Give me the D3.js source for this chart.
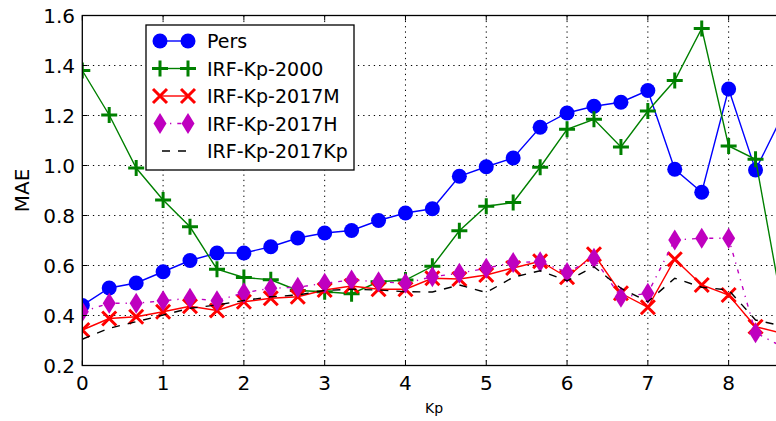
<!DOCTYPE html>
<meta charset="utf-8">
<style>
  body { margin: 0; background: #fff; }
  text { font-family: "DejaVu Sans", sans-serif; }
</style>
<svg width="776" height="421"></svg>
<script src="https://d3js.org/d3.v7.min.js"></script>
<script>

// Kp bins (thirds)
var kp = [0, 0.333, 0.667, 1, 1.333, 1.667, 2, 2.333, 2.667, 3, 3.333, 3.667, 4, 4.333,
          4.667, 5, 5.333, 5.667, 6, 6.333, 6.667, 7, 7.333, 7.667, 8, 8.333, 8.667];

var pers = [0.44, 0.51, 0.53, 0.575, 0.62, 0.65, 0.65, 0.675, 0.71, 0.73, 0.74, 0.78, 0.81, 0.827,
            0.957, 0.995, 1.03, 1.153, 1.21, 1.237, 1.253, 1.30, 0.985, 0.893, 1.306, 0.982, 1.20];

var irf2000 = [1.38, 1.202, 0.99, 0.862, 0.755, 0.585, 0.552, 0.543, 0.50, 0.495, 0.487, 0.535, 0.542, 0.597,
               0.739, 0.837, 0.852, 0.993, 1.145, 1.185, 1.074, 1.218, 1.34, 1.548, 1.078, 1.025, 0.43];

var irf2017M = [0.342, 0.388, 0.395, 0.415, 0.437, 0.42, 0.455, 0.469, 0.475, 0.502, 0.518, 0.505, 0.505, 0.549,
                0.546, 0.562, 0.59, 0.617, 0.553, 0.645, 0.489, 0.433, 0.625, 0.522, 0.482, 0.355, 0.329];

var irf2017H = [0.415, 0.449, 0.449, 0.459, 0.469, 0.459, 0.491, 0.509, 0.513, 0.529, 0.542, 0.535, 0.529, 0.555,
                0.569, 0.589, 0.612, 0.615, 0.572, 0.629, 0.473, 0.489, 0.702, 0.709, 0.709, 0.331, 0.275];

var irf2017Kp = [0.305, 0.349, 0.375, 0.402, 0.429, 0.442, 0.46, 0.475, 0.482, 0.50, 0.505, 0.502, 0.495, 0.494,
                 0.522, 0.492, 0.553, 0.579, 0.539, 0.595, 0.509, 0.455, 0.549, 0.513, 0.502, 0.382, 0.358];

var xTicks = [0, 1, 2, 3, 4, 5, 6, 7, 8];
var yTicks = [0.2, 0.4, 0.6, 0.8, 1.0, 1.2, 1.4, 1.6];

var series = [
  {name: 'Pers',          vals: pers,      color: '#0000ff', dash: null,      marker: 'circle'},
  {name: 'IRF-Kp-2000',   vals: irf2000,   color: '#008000', dash: null,      marker: 'plus'},
  {name: 'IRF-Kp-2017M',  vals: irf2017M,  color: '#ff0000', dash: null,      marker: 'x'},
  {name: 'IRF-Kp-2017H',  vals: irf2017H,  color: '#bf00bf', dash: '4,6,1.3,6', marker: 'diamond'},
  {name: 'IRF-Kp-2017Kp', vals: irf2017Kp, color: '#000000', dash: '8,8',    marker: null}
];

var svg = d3.select("svg");

var pL = 82.3, pT = 15.5, pR = 786, pB = 365.5;

var x = d3.scaleLinear().domain([0, 8.71]).range([pL, pR]);
var y = d3.scaleLinear().domain([0.2, 1.6]).range([pB, pT]);

// the picture is cut at the window edge, so clip a bit before it
svg.append("defs").append("clipPath").attr("id", "plotclip")
  .append("rect")
  .attr("x", pL).attr("y", pT)
  .attr("width", 773 - pL).attr("height", pB - pT);

// lines run to the edge, markers stop before
svg.select("defs").append("clipPath").attr("id", "lineclip")
  .append("rect")
  .attr("x", pL).attr("y", pT)
  .attr("width", pR - pL).attr("height", pB - pT);

// grid
var grid = svg.append("g").attr("class", "grid");
grid.selectAll(".gx").data(xTicks.slice(1)).enter().append("line")
  .attr("x1", d => x(d)).attr("x2", d => x(d))
  .attr("y1", pT).attr("y2", pB)
  .attr("stroke", "#000").attr("stroke-width", 1)
  .attr("stroke-dasharray", "1.3,4");
grid.selectAll(".gy").data(yTicks.slice(1, -1)).enter().append("line")
  .attr("x1", pL).attr("x2", pR)
  .attr("y1", d => y(d)).attr("y2", d => y(d))
  .attr("stroke", "#000").attr("stroke-width", 1)
  .attr("stroke-dasharray", "1.3,4");

function drawMarker(g, type, color) {
  if (type === 'circle') {
    g.append("circle").attr("r", 7.5).attr("fill", color);
  } else if (type === 'plus') {
    g.append("path").attr("d", "M-8,0H8M0,-8V8")
      .attr("stroke", color).attr("stroke-width", 3);
  } else if (type === 'x') {
    g.append("path").attr("d", "M-7,-7L7,7M-7,7L7,-7")
      .attr("stroke", color).attr("stroke-width", 3);
  } else if (type === 'diamond') {
    g.append("path").attr("d", "M0,-10.5L6.5,0L0,10.5L-6.5,0Z")
      .attr("fill", color);
  }
}

var line = d3.line()
  .x(d => x(d[0]))
  .y(d => y(d[1]));

series.forEach(function(s) {
  var pts = kp.map((k, i) => [k, s.vals[i]]);
  svg.append("g").attr("clip-path", "url(#lineclip)")
    .append("path")
    .datum(pts)
    .attr("d", line)
    .attr("fill", "none")
    .attr("stroke", s.color)
    .attr("stroke-width", 1.4)
    .attr("stroke-dasharray", s.dash);
  if (s.marker) {
    svg.append("g").attr("clip-path", "url(#plotclip)")
      .selectAll("g.m").data(pts).enter().append("g")
      .attr("transform", d => "translate(" + x(d[0]) + "," + y(d[1]) + ")")
      .each(function() { drawMarker(d3.select(this), s.marker, s.color); });
  }
});

// frame
svg.append("rect")
  .attr("x", pL).attr("y", pT)
  .attr("width", pR - pL).attr("height", pB - pT)
  .attr("fill", "none").attr("stroke", "#000").attr("stroke-width", 1.3);

// inward ticks
var ticks = svg.append("g");
xTicks.forEach(function(t) {
  ticks.append("line").attr("x1", x(t)).attr("x2", x(t)).attr("y1", pB).attr("y2", pB - 5)
    .attr("stroke", "#000");
  ticks.append("line").attr("x1", x(t)).attr("x2", x(t)).attr("y1", pT).attr("y2", pT + 5)
    .attr("stroke", "#000");
  ticks.append("text").attr("x", x(t)).attr("y", 390)
    .attr("text-anchor", "middle").attr("font-size", 20).attr("fill", "#000")
    .text(t);
});
yTicks.forEach(function(t) {
  ticks.append("line").attr("x1", pL).attr("x2", pL + 5).attr("y1", y(t)).attr("y2", y(t))
    .attr("stroke", "#000");
  ticks.append("text").attr("x", 75).attr("y", y(t) + 7)
    .attr("text-anchor", "end").attr("font-size", 20).attr("fill", "#000")
    .text(t.toFixed(1));
});

svg.append("text")
  .attr("transform", "translate(29," + ((pT + pB) / 2) + ") rotate(-90)")
  .attr("text-anchor", "middle").attr("font-size", 20)
  .text("MAE");

svg.append("text")
  .attr("x", (pL + pR) / 2).attr("y", 413)
  .attr("text-anchor", "middle").attr("font-size", 14)
  .text("Kp");

// legend
var leg = svg.append("g");
leg.append("rect")
  .attr("x", 146).attr("y", 25).attr("width", 208).attr("height", 145)
  .attr("fill", "#fff").attr("stroke", "#000").attr("stroke-width", 1.3);

series.forEach(function(s, i) {
  var ly = 41 + i * 27.5;
  var g = leg.append("g");
  g.append("line").attr("x1", 160).attr("x2", 188).attr("y1", ly).attr("y2", ly)
    .attr("stroke", s.color).attr("stroke-width", 1.4)
    .attr("stroke-dasharray", s.marker ? s.dash : "8,8")
    .attr("stroke-dashoffset", s.marker ? 0 : -2);
  if (s.marker) {
    [160, 188].forEach(function(mx) {
      drawMarker(g.append("g").attr("transform", "translate(" + mx + "," + ly + ")"), s.marker, s.color);
    });
  }
  g.append("text").attr("x", 207).attr("y", ly + 7)
    .attr("font-size", 19).text(s.name);
});

</script>
